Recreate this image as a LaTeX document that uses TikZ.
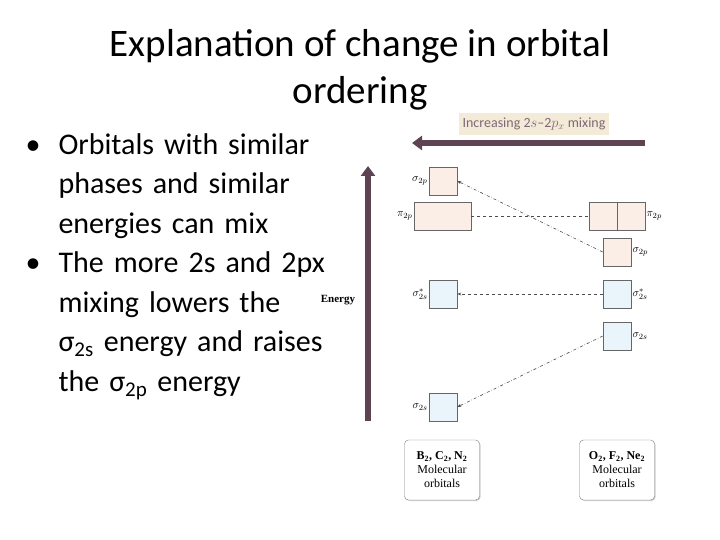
\documentclass[tikz,border=0pt]{standalone}
\usepackage{fontspec}
\setmainfont{Carlito}
\newfontfamily\serifx{Liberation Serif}
\usetikzlibrary{arrows.meta,shadows}
\definecolor{arr}{HTML}{5E4452}
\definecolor{pk}{HTML}{FBEEE6}
\definecolor{bl}{HTML}{EAF4FB}
\definecolor{tag}{HTML}{F3EAD8}
\begin{document}
\begin{tikzpicture}[x=1pt,y=-1pt,
  orb/.style={draw=gray!80!black,line width=0.6pt},
  lab/.style={font=\serifx\itshape\fontsize{11}{12}\selectfont,inner sep=1pt},
  dl/.style={dashed,gray!60!black,line width=0.6pt},
  dda/.style={dash dot,gray!60!black,line width=0.6pt,-{Stealth[length=4pt]}},
  mol/.style={draw=gray,rounded corners=4pt,fill=white,drop shadow={shadow xshift=1pt,shadow yshift=-1pt,opacity=0.4},minimum width=75pt,minimum height=60pt,align=center,font=\serifx\fontsize{12}{14}\selectfont}]
\useasboundingbox (0,0) rectangle (720,540);
\node (t1) at (360,46) {\fontsize{39}{42}\selectfont Explanation of change in orbital};
\node (t2) at (360,93) {\fontsize{39}{42}\selectfont ordering};
\node[anchor=north west,text width=320pt,align=left,font=\fontsize{30}{39.5}\selectfont] (bul) at (22,130) {%
\makebox[33pt][l]{•}Orbitals with similar\\
\hspace*{33pt}phases and similar\\
\hspace*{33pt}energies can mix\\
\makebox[33pt][l]{•}The more 2s and 2px\\
\hspace*{33pt}mixing lowers the\\
\hspace*{33pt}σ\textsubscript{2s} energy and raises\\
\hspace*{33pt}the σ\textsubscript{2p} energy};
% tag and arrows
\node[fill=tag,minimum width=148pt,minimum height=22pt,font=\fontsize{14}{16}\selectfont\color{arr!80}] (tag) at (534,124) {Increasing 2$s$--2$p_x$ mixing};
\coordinate (ha) at (645,143); \coordinate (hb) at (412,143);
\draw[arr,line width=6pt,-{Triangle[length=10pt,width=14pt]}] (ha) -- (hb);
\coordinate (va) at (368,421); \coordinate (vb) at (368,166);
\draw[arr,line width=6pt,-{Triangle[length=10pt,width=14pt]}] (va) -- (vb);
\node[font=\serifx\bfseries\fontsize{11}{12}\selectfont,fill=white,inner sep=1pt] (en) at (338,300) {Energy};
% left boxes
\node[orb,fill=pk,minimum size=28pt,inner sep=0] (ls2p) at (443,181) {};
\node[orb,fill=pk,minimum width=57pt,minimum height=28pt,inner sep=0] (lpi) at (442.5,216) {};
\node[orb,fill=bl,minimum size=28pt,inner sep=0] (ls2ss) at (443,294) {};
\node[orb,fill=bl,minimum size=28pt,inner sep=0] (ls2s) at (443,407) {};
\node[lab,anchor=east] at (ls2p.west) {$\sigma_{2p}$};
\node[lab,anchor=east] at (lpi.west) {$\pi_{2p}$};
\node[lab,anchor=east] at (ls2ss.west) {$\sigma^*_{2s}$};
\node[lab,anchor=east] at (ls2s.west) {$\sigma_{2s}$};
% right boxes
\node[orb,fill=pk,minimum size=28pt,inner sep=0] (rpa) at (603,216) {};
\node[orb,fill=pk,minimum size=28pt,inner sep=0] (rpb) at (631,216) {};
\node[orb,fill=pk,minimum size=28pt,inner sep=0] (rs2p) at (617,252) {};
\node[orb,fill=bl,minimum size=28pt,inner sep=0] (rs2ss) at (617,294) {};
\node[orb,fill=bl,minimum size=28pt,inner sep=0] (rs2s) at (617,336) {};
\node[lab,anchor=west] at (rpb.east) {$\pi_{2p}$};
\node[lab,anchor=west] at (rs2p.east) {$\sigma_{2p}$};
\node[lab,anchor=west] at (rs2ss.east) {$\sigma^*_{2s}$};
\node[lab,anchor=west] at (rs2s.east) {$\sigma_{2s}$};
% connectors
\draw[dl] (lpi.east) -- (rpa.west);
\draw[dda] (rs2p.west) -- (ls2p.east);
\draw[dl,-{Stealth[length=4pt]}] (rs2ss.west) -- (ls2ss.east);
\draw[dda] (rs2s.west) -- (ls2s.east);
% molecule boxes
\node[mol] (m1) at (442,470) {\textbf{B\textsubscript{2}, C\textsubscript{2}, N\textsubscript{2}}\\Molecular\\orbitals};
\node[mol] (m2) at (617,470) {\textbf{O\textsubscript{2}, F\textsubscript{2}, Ne\textsubscript{2}}\\Molecular\\orbitals};
\end{tikzpicture}
\end{document}
